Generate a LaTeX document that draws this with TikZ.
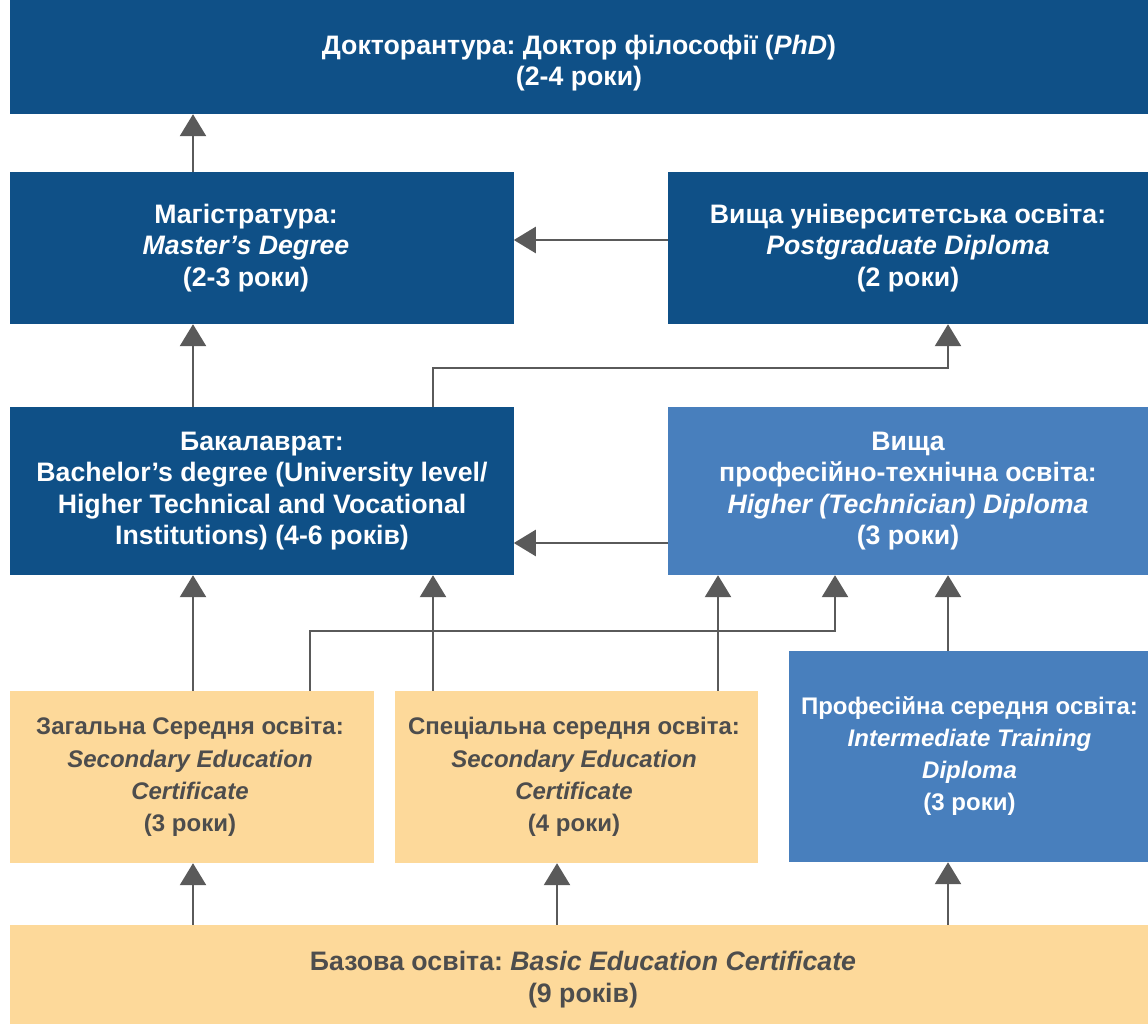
\documentclass[tikz,border=0pt]{standalone}
\usepackage{fontspec}
\setmainfont{Liberation Sans}
\usetikzlibrary{arrows.meta,calc}
\definecolor{dkblue}{RGB}{15,80,135}
\definecolor{ltblue}{RGB}{72,127,189}
\definecolor{paleor}{RGB}{253,217,154}
\definecolor{txtgray}{RGB}{77,77,77}
\definecolor{lngray}{RGB}{90,90,90}
\tikzset{
  box/.style={rectangle, inner sep=0pt},
  darkbox/.style={box, fill=dkblue},
  lightbox/.style={box, fill=ltblue},
  palebox/.style={box, fill=paleor},
  bigtxt/.style={inner sep=0pt, align=center, text=white,
    font=\fontsize{26.7}{31.5}\selectfont\bfseries},
  smalltxt/.style={inner sep=0pt, align=center, text=txtgray,
    font=\fontsize{24}{32.2}\selectfont\bfseries},
  arr/.style={draw=lngray, line width=2.6pt, line join=miter,
    -{Triangle[width=26pt,length=22pt]}},
}
\begin{document}
\frenchspacing
\begin{tikzpicture}[x=1pt,y=-1pt]
\useasboundingbox (0,0) rectangle (1148,1024);
% boxes
\node[darkbox, minimum width=1138pt, minimum height=114pt] (phd) at (579,57) {};
\node[darkbox, minimum width=504pt, minimum height=152pt] (mag) at (262,248) {};
\node[darkbox, minimum width=480pt, minimum height=152pt] (pg) at (908,248) {};
\node[darkbox, minimum width=504pt, minimum height=168pt] (bak) at (262,491) {};
\node[lightbox, minimum width=480pt, minimum height=168pt] (ht) at (908,491) {};
\node[palebox, minimum width=364pt, minimum height=172pt] (zag) at (192,777) {};
\node[palebox, minimum width=363pt, minimum height=172pt] (sp) at (576.5,777) {};
\node[lightbox, minimum width=359pt, minimum height=211pt] (prof) at (968.5,756.5) {};
\node[palebox, minimum width=1138pt, minimum height=99pt] (baz) at (579,974.5) {};
% texts
\node[bigtxt] (phdT) at (579,63)
  {Докторантура: Доктор філософії (\textit{PhD})\\(2-4 роки)};
\node[bigtxt] (magT) at (246,248)
  {Магістратура:\\\textit{Master’s Degree}\\(2-3 роки)};
\node[bigtxt] (pgT) at (908,248)
  {Вища університетська освіта:\\\textit{Postgraduate Diploma}\\(2 роки)};
\node[bigtxt] (bakT) at (262,491)
  {Бакалаврат:\\Bachelor’s degree (University level/\\Higher Technical and Vocational\\Institutions) (4-6 років)};
\node[bigtxt] (htT) at (908,491)
  {Вища\\професійно-технічна освіта:\\\textit{Higher (Technician) Diploma}\\(3 роки)};
\node[smalltxt] (zagT) at (190,777)
  {Загальна Середня освіта:\\\textit{Secondary Education}\\\textit{Certificate}\\(3 роки)};
\node[smalltxt] (spT) at (574,777)
  {Спеціальна середня освіта:\\\textit{Secondary Education}\\\textit{Certificate}\\(4 роки)};
\node[smalltxt, text=white] (profT) at (969.5,756)
  {Професійна середня освіта:\\\textit{Intermediate Training}\\\textit{Diploma}\\(3 роки)};
\node[bigtxt, text=txtgray, font=\fontsize{26.7}{32}\selectfont\bfseries] (bazT) at (583,980)
  {Базова освіта: \textit{Basic Education Certificate}\\(9 років)};
% connectors
\coordinate (c193) at (193,0);
\draw[arr] (mag.north -| c193) -- (phd.south -| c193);
\draw[arr] (pg.west) ++(0,-8) -- ++(-154,0);
\draw[arr] ([xshift=171pt]bak.north) -- ++(0,-39) -| ([xshift=40pt]pg.south);
\draw[arr] (bak.north -| c193) -- (mag.south -| c193);
\draw[arr] (ht.west) ++(0,52) -- ++(-154,0);
\draw[arr] (zag.north -| c193) -- (bak.south -| c193);
\coordinate (s1) at ([xshift=-143.5pt]sp.north);
\draw[arr] (s1) -- (s1 |- bak.south);
\draw[arr] ([xshift=118pt]zag.north) -- ++(0,-60) -| ([xshift=-73pt]ht.south);
\coordinate (s2) at ([xshift=141.5pt]sp.north);
\draw[arr] (s2) -- (s2 |- ht.south);
\coordinate (c948) at (948,0);
\draw[arr] (prof.north -| c948) -- (ht.south -| c948);
\draw[arr] (baz.north -| c193) -- (zag.south -| c193);
\coordinate (c557) at (557,0);
\draw[arr] (baz.north -| c557) -- (sp.south -| c557);
\draw[arr] (baz.north -| c948) -- (prof.south -| c948);
\end{tikzpicture}
\end{document}
